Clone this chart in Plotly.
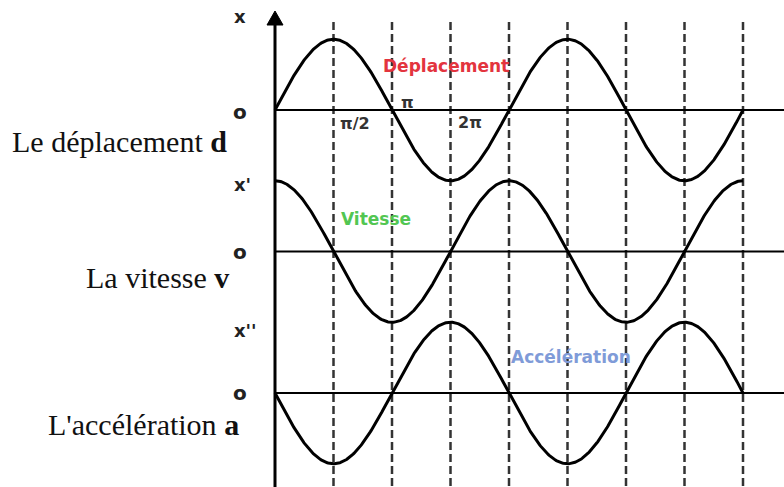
import numpy as np
import plotly.graph_objects as go

# Quantities plotted, one band each from top to bottom
curve_names = ["Déplacement", "Vitesse", "Accélération"]
curve_colors = ["#e3343e", "#52c652", "#7f9bd8"]
row_labels = ["Le déplacement <b>d</b>", "La vitesse <b>v</b>", "L'accélération <b>a</b>"]
axis_symbols = ["x", "x'", "x''"]
zero_symbol = "o"
row_baselines = [2.0, 0.0, -2.0]          # zero line of each band
phase_shifts = [0.0, np.pi / 2, np.pi]    # sin, cos, -sin
amplitude = 1.0
n_cycles = 2

# Guides every quarter period, and the labelled ones
guide_steps = [1, 2, 3, 4, 5, 6, 7, 8]    # multiples of pi/2
tick_labels = ["π/2", "π", "2π"]
tick_steps = [1, 2, 4]

# ---- pixel geometry of the canvas ----
W, H = 784, 487
X0_PX, PX_PER_RAD = 275.0, 58.5 / (np.pi / 2)
Y0_PX, PX_PER_UNIT = 251.5, 70.75


def px_x(p):
    return (p - X0_PX) / PX_PER_RAD


def px_y(p):
    return (Y0_PX - p) / PX_PER_UNIT


t = np.linspace(0, 2 * np.pi * n_cycles, 600)

fig = go.Figure()
for name, base, phase in zip(curve_names, row_baselines, phase_shifts):
    fig.add_trace(go.Scatter(
        x=t, y=base + amplitude * np.sin(t + phase), mode="lines", name=name,
        line=dict(color="black", width=3), hoverinfo="skip", showlegend=False))

shapes = []
# dashed quarter-period guides
for k in guide_steps:
    xv = k * np.pi / 2
    shapes.append(dict(type="line", xref="x", yref="y", x0=xv, x1=xv,
                       y0=px_y(22), y1=px_y(H), layer="below",
                       line=dict(color="#333333", width=2.5, dash="8px,4px")))
# zero lines of each band
for base in row_baselines:
    shapes.append(dict(type="line", xref="x", yref="y", x0=0, x1=px_x(W),
                       y0=base, y1=base, line=dict(color="black", width=2)))
# vertical axis with arrow head
shapes.append(dict(type="line", xref="x", yref="y", x0=0, x1=0,
                   y0=px_y(H), y1=px_y(22), line=dict(color="black", width=3)))
hx = 8 / PX_PER_RAD
shapes.append(dict(type="path", xref="x", yref="y",
                   path=f"M {-hx} {px_y(25)} L 0 {px_y(11)} L {hx} {px_y(25)} Z",
                   fillcolor="black", line=dict(color="black", width=1)))

annotations = []
# serif row titles on the left
for text, rx, cy in zip(row_labels, [229, 231, 241], [141, 277, 424]):
    annotations.append(dict(text=text, x=px_x(rx), y=px_y(cy), xref="x", yref="y",
                            xanchor="right", yanchor="middle", showarrow=False,
                            font=dict(family="Liberation Serif", size=30, color="#111111")))
# axis symbols
for sym, cy in zip(axis_symbols, [16, 184, 330]):
    annotations.append(dict(text=f"<b>{sym}</b>", x=px_x(232), y=px_y(cy), xref="x", yref="y",
                            xanchor="left", yanchor="middle", showarrow=False,
                            font=dict(family="DejaVu Sans", size=18, color="#222222")))
for cy in [112, 252, 393]:
    annotations.append(dict(text=f"<b>{zero_symbol}</b>", x=px_x(231), y=px_y(cy), xref="x", yref="y",
                            xanchor="left", yanchor="middle", showarrow=False,
                            font=dict(family="DejaVu Sans", size=20, color="#222222")))
# coloured curve names
for name, color, (cx, cy) in zip(curve_names, curve_colors, [(446, 66), (376, 219), (571, 357)]):
    annotations.append(dict(text=f"<b>{name}</b>", x=px_x(cx), y=px_y(cy), xref="x", yref="y",
                            xanchor="center", yanchor="middle", showarrow=False,
                            font=dict(family="DejaVu Sans", size=17, color=color)))
# angle labels on the top band
for lab, k, (cx, cy) in zip(tick_labels, tick_steps, [(355, 123), (407, 102), (470, 122)]):
    annotations.append(dict(text=f"<b>{lab}</b>", x=px_x(cx), y=px_y(cy), xref="x", yref="y",
                            xanchor="center", yanchor="middle", showarrow=False,
                            font=dict(family="DejaVu Sans", size=16, color="#333333")))

fig.update_layout(
    width=W, height=H, autosize=False,
    margin=dict(l=0, r=0, t=0, b=0, pad=0),
    paper_bgcolor="white", plot_bgcolor="white",
    xaxis=dict(range=[px_x(0), px_x(W)], visible=False, fixedrange=True),
    yaxis=dict(range=[px_y(H), px_y(0)], visible=False, fixedrange=True),
    shapes=shapes, annotations=annotations,
)

fig.write_html("out.html")
